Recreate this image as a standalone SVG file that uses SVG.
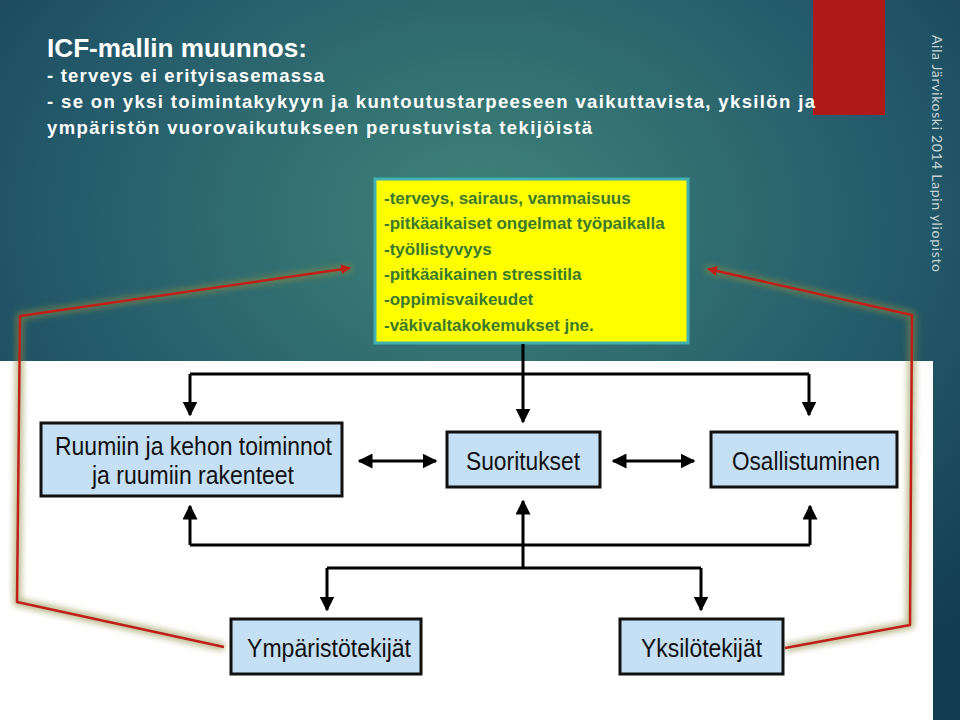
<svg xmlns="http://www.w3.org/2000/svg" width="960" height="720" viewBox="0 0 960 720">
<defs>
<radialGradient id="bg" cx="0.5" cy="0.3" r="0.75">
<stop offset="0" stop-color="#3f8478"/><stop offset="0.6" stop-color="#23596a"/><stop offset="1" stop-color="#133c50"/>
</radialGradient>
<marker id="ah" viewBox="0 0 10 10" refX="9" refY="5" markerWidth="5" markerHeight="5" orient="auto-start-reverse"><path d="M0,0L10,5L0,10z" fill="#000"/></marker>
<marker id="rh" viewBox="0 0 10 10" refX="9" refY="5" markerWidth="4" markerHeight="4" orient="auto"><path d="M0,0L10,5L0,10z" fill="#c0201a"/></marker>
<filter id="glow" x="-10%" y="-10%" width="120%" height="120%"><feGaussianBlur stdDeviation="3"/></filter>
</defs>
<style>
.box{fill:#c5dff4;stroke:#111;stroke-width:3}
.bt{font-family:"Liberation Sans",sans-serif;font-size:26px;fill:#111}
.ln{fill:none;stroke:#000;stroke-width:3}
.yt{font-family:"Liberation Sans",sans-serif;font-weight:bold;font-size:17px;fill:#3a7a30}
.tt{font-family:"Liberation Sans",sans-serif;font-weight:bold;fill:#fff}
</style>
<rect width="960" height="720" fill="url(#bg)"/>
<rect x="0" y="361" width="933" height="359" fill="#fff"/>
<rect x="813" y="0" width="72" height="115" fill="#b01a16"/>
<text class="tt" x="47" y="57" font-size="25" textLength="260" lengthAdjust="spacingAndGlyphs">ICF-mallin muunnos:</text>
<text class="tt" x="47" y="82" font-size="18.5" textLength="277">- terveys ei erityisasemassa</text>
<text class="tt" x="47" y="108" font-size="18.5" textLength="768">- se on yksi toimintakykyyn ja kuntoutustarpeeseen vaikuttavista, yksilön ja</text>
<text class="tt" x="47" y="134" font-size="18.5" textLength="545">ympäristön vuorovaikutukseen perustuvista tekijöistä</text>
<text transform="translate(932,35) rotate(90)" font-family="Lato,'Liberation Sans',sans-serif" font-size="14" fill="#c8d4d8" textLength="237">Aila Järvikoski 2014 Lapin yliopisto</text>
<g id="yellow">
<rect x="375" y="179" width="313" height="164" fill="#ffff00" stroke="#40b0b0" stroke-width="3"/>
<text class="yt" x="384" y="204">-terveys, sairaus, vammaisuus</text>
<text class="yt" x="384" y="229">-pitkäaikaiset ongelmat työpaikalla</text>
<text class="yt" x="384" y="255">-työllistyvyys</text>
<text class="yt" x="384" y="280">-pitkäaikainen stressitila</text>
<text class="yt" x="384" y="305">-oppimisvaikeudet</text>
<text class="yt" x="384" y="331">-väkivaltakokemukset jne.</text>
</g>
<g id="connectors">
<path class="ln" d="M190,374H809"/>
<path class="ln" d="M190,374V415" marker-end="url(#ah)"/>
<path class="ln" d="M809,374V415" marker-end="url(#ah)"/>
<path class="ln" d="M523,344V422" marker-end="url(#ah)"/>
<path class="ln" d="M359,461H436" marker-start="url(#ah)" marker-end="url(#ah)"/>
<path class="ln" d="M613,461H694" marker-start="url(#ah)" marker-end="url(#ah)"/>
<path class="ln" d="M190,545H810"/>
<path class="ln" d="M190,545V506" marker-end="url(#ah)"/>
<path class="ln" d="M810,545V506" marker-end="url(#ah)"/>
<path class="ln" d="M523,568V501" marker-end="url(#ah)"/>
<path class="ln" d="M327,568H701"/>
<path class="ln" d="M327,568V610" marker-end="url(#ah)"/>
<path class="ln" d="M701,568V610" marker-end="url(#ah)"/>
<g fill="none" stroke-linejoin="round">
<path d="M224,647L17,602L20,316L352,268M785,648L910,625L912,315L706,269" stroke="#8a8a40" stroke-width="8" opacity="0.6" filter="url(#glow)"/>
<path d="M224,647L17,602L20,316L350,268" stroke="#c0201a" stroke-width="2.5" marker-end="url(#rh)"/>
<path d="M785,648L910,625L912,315L708,269" stroke="#c0201a" stroke-width="2.5" marker-end="url(#rh)"/>
</g>
</g>
<g id="ruumiin"><rect class="box" x="41" y="423" width="301" height="73"/><text class="bt" x="55" y="455" textLength="277" lengthAdjust="spacingAndGlyphs">Ruumiin ja kehon toiminnot</text><text class="bt" x="92" y="484" textLength="202" lengthAdjust="spacingAndGlyphs">ja ruumiin rakenteet</text></g>
<g id="suoritukset"><rect class="box" x="447" y="432" width="153" height="55"/><text class="bt" x="466" y="470" textLength="114" lengthAdjust="spacingAndGlyphs">Suoritukset</text></g>
<g id="osallistuminen"><rect class="box" x="711" y="432" width="186" height="55"/><text class="bt" x="732" y="470" textLength="148" lengthAdjust="spacingAndGlyphs">Osallistuminen</text></g>
<g id="ymparisto"><rect class="box" x="231" y="619" width="190" height="55"/><text class="bt" x="247" y="657" textLength="164" lengthAdjust="spacingAndGlyphs">Ympäristötekijät</text></g>
<g id="yksilo"><rect class="box" x="620" y="619" width="163" height="55"/><text class="bt" x="641" y="657" textLength="121" lengthAdjust="spacingAndGlyphs">Yksilötekijät</text></g>
</svg>
